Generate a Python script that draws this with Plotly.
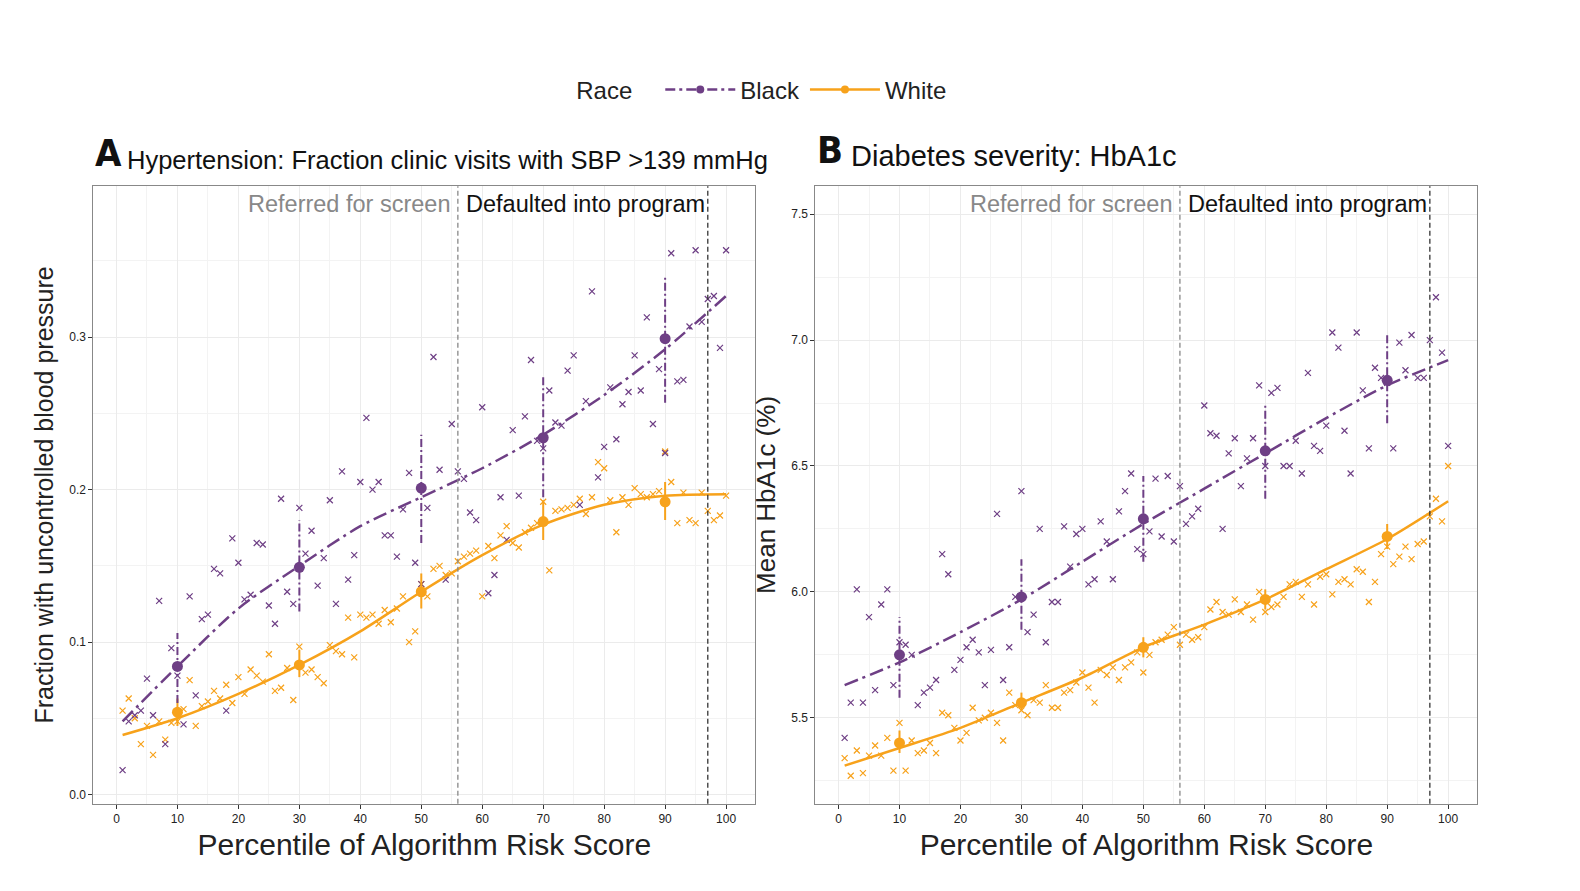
import plotly.graph_objects as go

pct = list(range(1, 101))
hyp_black = [0.016,0.048,0.052,0.055,0.076,0.052,0.127,0.033,0.096,0.078,0.046,0.130,0.065,0.115,0.118,0.148,0.145,0.055,0.168,0.152,
0.128,0.131,0.165,0.164,0.124,0.112,0.194,0.133,0.125,0.188,0.158,0.173,0.137,0.155,0.193,0.125,0.212,0.141,0.157,0.205,
0.247,0.200,0.205,0.170,0.170,0.156,0.187,0.211,0.152,0.138,0.188,0.287,0.213,0.141,0.243,0.212,0.207,0.185,0.180,0.254,
0.132,0.144,0.195,0.167,0.239,0.196,0.248,0.285,0.232,0.227,0.265,0.244,0.242,0.278,0.288,0.190,0.258,0.330,0.208,0.228,
0.267,0.233,0.256,0.264,0.288,0.265,0.313,0.243,0.279,0.224,0.355,0.271,0.272,0.307,0.357,0.310,0.325,0.327,0.293,0.357]
hyp_white = [0.055,0.063,0.050,0.033,0.045,0.026,0.048,0.036,0.047,0.048,0.056,0.075,0.045,0.058,0.061,0.068,0.063,0.072,0.060,0.077,
0.066,0.082,0.078,0.074,0.092,0.068,0.070,0.083,0.062,0.097,0.080,0.082,0.077,0.073,0.098,0.094,0.092,0.116,0.090,0.118,
0.116,0.118,0.112,0.121,0.113,0.122,0.130,0.100,0.107,0.138,0.130,0.148,0.150,0.144,0.145,0.153,0.156,0.158,0.160,0.130,
0.163,0.155,0.170,0.176,0.165,0.162,0.172,0.175,0.178,0.192,0.147,0.186,0.187,0.188,0.190,0.194,0.184,0.195,0.218,0.214,
0.193,0.172,0.195,0.190,0.201,0.197,0.195,0.197,0.199,0.225,0.205,0.178,0.198,0.180,0.178,0.198,0.186,0.180,0.183,0.196]
dia_black = [5.42,5.56,6.01,5.56,5.90,5.61,5.95,6.01,5.63,5.80,5.79,5.75,5.55,5.60,5.62,5.65,6.15,6.07,5.69,5.73,
5.78,5.81,5.76,5.63,5.77,6.31,5.65,5.78,5.98,6.40,5.84,5.91,6.25,5.80,5.96,5.96,6.26,6.10,6.23,6.25,
6.03,6.05,6.28,6.20,6.05,6.32,6.40,6.47,6.17,6.15,6.24,6.45,6.22,6.46,6.20,6.42,6.27,6.30,6.33,6.74,
6.63,6.62,6.25,6.55,6.61,6.42,6.53,6.61,6.82,6.50,6.79,6.81,6.50,6.50,6.60,6.47,6.87,6.58,6.56,6.66,
7.03,6.97,6.64,6.47,7.03,6.80,6.57,6.89,6.85,6.83,6.57,6.99,6.88,7.02,6.85,6.85,7.00,7.17,6.95,6.58]
dia_white = [5.34,5.27,5.37,5.28,5.35,5.39,5.35,5.42,5.29,5.48,5.29,5.41,5.36,5.37,5.40,5.36,5.52,5.51,5.46,5.41,
5.44,5.54,5.49,5.50,5.52,5.48,5.41,5.60,5.55,5.53,5.51,5.57,5.56,5.63,5.54,5.54,5.60,5.61,5.64,5.68,
5.62,5.56,5.69,5.67,5.70,5.65,5.70,5.72,5.76,5.68,5.75,5.80,5.81,5.83,5.86,5.79,5.83,5.81,5.82,5.86,
5.93,5.96,5.92,5.91,5.97,5.92,5.95,5.89,6.00,5.92,5.94,5.95,5.98,6.03,6.04,5.98,6.03,5.95,6.06,6.07,
5.99,6.04,6.05,6.03,6.09,6.08,5.96,6.04,6.15,6.18,6.11,6.14,6.18,6.13,6.19,6.20,6.30,6.37,6.28,6.50]

bins = [10, 30, 50, 70, 90]
hyp_black_mean = [0.084, 0.149, 0.201, 0.234, 0.299]
hyp_black_lo = [0.060, 0.120, 0.165, 0.195, 0.257]
hyp_black_hi = [0.106, 0.180, 0.236, 0.274, 0.340]
hyp_white_mean = [0.054, 0.085, 0.133, 0.179, 0.192]
hyp_white_lo = [0.045, 0.077, 0.122, 0.167, 0.180]
hyp_white_hi = [0.063, 0.095, 0.145, 0.193, 0.205]
dia_black_mean = [5.75, 5.98, 6.29, 6.56, 6.84]
dia_black_lo = [5.58, 5.85, 6.12, 6.37, 6.67]
dia_black_hi = [5.90, 6.13, 6.46, 6.75, 7.03]
dia_white_mean = [5.40, 5.56, 5.78, 5.97, 6.22]
dia_white_lo = [5.36, 5.53, 5.74, 5.93, 6.17]
dia_white_hi = [5.45, 5.60, 5.82, 6.01, 6.27]

fit_x = [1, 10, 20, 30, 40, 50, 60, 70, 80, 90, 100]
hyp_black_fit = [0.048,0.084,0.122,0.150,0.176,0.195,0.214,0.236,0.262,0.292,0.327]
hyp_white_fit = [0.039,0.050,0.066,0.085,0.107,0.133,0.157,0.177,0.190,0.196,0.197]
dia_black_fit = [5.63,5.72,5.84,5.97,6.12,6.27,6.41,6.55,6.69,6.82,6.92]
dia_white_fit = [5.31,5.38,5.46,5.56,5.66,5.78,5.87,5.97,6.09,6.21,6.36]

PURPLE = "#6e3f85"
ORANGE = "#f7a21b"
DASH = "14px,5px,3px,5px"

fig = go.Figure()

def panel(xa, ya, b, w, bm, blo, bhi, wm, wlo, whi, bf, wf):
    for vals, col in ((w, ORANGE), (b, PURPLE)):
        fig.add_trace(go.Scatter(x=pct, y=vals, mode="markers", xaxis=xa, yaxis=ya, showlegend=False,
                                 marker=dict(symbol="x-thin", size=6, line=dict(width=1.2, color=col), color=col)))
    for fx, col, dash in ((wf, ORANGE, "solid"), (bf, PURPLE, DASH)):
        fig.add_trace(go.Scatter(x=fit_x, y=fx, mode="lines", xaxis=xa, yaxis=ya, showlegend=False,
                                 line=dict(color=col, width=2.5, dash=dash, shape="spline", smoothing=0.8)))
    for m, lo, hi, col, dash in ((wm, wlo, whi, ORANGE, "solid"), (bm, blo, bhi, PURPLE, "8px,3px,2px,3px")):
        ex, ey = [], []
        for xx, l, h in zip(bins, lo, hi):
            ex += [xx, xx, None]; ey += [l, h, None]
        fig.add_trace(go.Scatter(x=ex, y=ey, mode="lines", xaxis=xa, yaxis=ya, showlegend=False,
                                 line=dict(color=col, width=2, dash=dash)))
        fig.add_trace(go.Scatter(x=bins, y=m, mode="markers", xaxis=xa, yaxis=ya, showlegend=False,
                                 marker=dict(size=11, color=col)))

panel("x", "y", hyp_black, hyp_white, hyp_black_mean, hyp_black_lo, hyp_black_hi,
      hyp_white_mean, hyp_white_lo, hyp_white_hi, hyp_black_fit, hyp_white_fit)
panel("x2", "y2", dia_black, dia_white, dia_black_mean, dia_black_lo, dia_black_hi,
      dia_white_mean, dia_white_lo, dia_white_hi, dia_black_fit, dia_white_fit)

fig.add_trace(go.Scatter(x=[None], y=[None], mode="lines+markers", name="Black",
                         line=dict(color=PURPLE, width=2.5, dash="10px,4px,3px,4px"), marker=dict(size=8, color=PURPLE)))
fig.add_trace(go.Scatter(x=[None], y=[None], mode="lines+markers", name="White",
                         line=dict(color=ORANGE, width=2.5), marker=dict(size=8, color=ORANGE)))

FONT = "Liberation Sans, Arial, sans-serif"
ax_common = dict(showgrid=True, gridcolor="#ebebeb", zeroline=False, showline=True, linecolor="#888", mirror=True,
                 ticks="outside", ticklen=4, tickcolor="#333", tickfont=dict(size=12, color="#222"), automargin=False)
xt = dict(text="Percentile of Algorithm Risk Score", font=dict(size=30, color="#222"), standoff=8)
fig.update_layout(
    width=1580, height=891, paper_bgcolor="white", plot_bgcolor="white",
    margin=dict(l=0, r=0, t=0, b=0), font=dict(family=FONT),
    xaxis=dict(domain=[0.054, 0.473], range=[-3.8, 104.8], tickvals=list(range(0, 101, 10)), title=xt,
               minor=dict(dtick=5, showgrid=True, gridcolor="#f3f3f3"), **ax_common),
    yaxis=dict(domain=[0.107, 0.800], range=[-0.006, 0.399], tickvals=[0, 0.1, 0.2, 0.3],
               ticktext=["0.0", "0.1", "0.2", "0.3"],
               title=dict(text="Fraction with uncontrolled blood pressure", font=dict(size=25, color="#222"), standoff=8),
               minor=dict(dtick=0.05, showgrid=True, gridcolor="#f3f3f3"), **ax_common),
    xaxis2=dict(domain=[0.511, 0.930], range=[-3.8, 104.8], tickvals=list(range(0, 101, 10)), title=xt,
                minor=dict(dtick=5, showgrid=True, gridcolor="#f3f3f3"), **ax_common, anchor="y2"),
    yaxis2=dict(domain=[0.107, 0.800], range=[5.159, 7.611], tickvals=[5.5, 6.0, 6.5, 7.0, 7.5],
                ticktext=["5.5", "6.0", "6.5", "7.0", "7.5"],
                title=dict(text="Mean HbA1c (%)", font=dict(size=26, color="#222"), standoff=8),
                minor=dict(dtick=0.25, showgrid=True, gridcolor="#f3f3f3"), **ax_common, anchor="x2"),
    legend=dict(orientation="h", x=0.478, y=0.908, xanchor="center", yanchor="middle",
                title=dict(text="Race   ", font=dict(size=24, color="#222")), font=dict(size=24, color="#222"),
                itemwidth=70, bgcolor="rgba(0,0,0,0)"),
)

for xa, ya in (("x", "y"), ("x2", "y2")):
    fig.add_shape(type="line", x0=56, x1=56, y0=0, y1=1, xref=xa, yref=ya + " domain",
                  line=dict(color="#888", width=1.3, dash="5px,3px"))
    fig.add_shape(type="line", x0=97, x1=97, y0=0, y1=1, xref=xa, yref=ya + " domain",
                  line=dict(color="#333", width=1.3, dash="5px,3px"))
    fig.add_annotation(x=55, y=0.995, xref=xa, yref=ya + " domain", text="Referred for screen", showarrow=False,
                       xanchor="right", yanchor="top", font=dict(size=23.5, color="#888"))
    fig.add_annotation(x=57, y=0.995, xref=xa, yref=ya + " domain", text="Defaulted into program", showarrow=False,
                       xanchor="left", yanchor="top", font=dict(size=23.5, color="#111"))

fig.add_annotation(x=0.054, y=0.837, xref="paper", yref="paper", xanchor="left", yanchor="middle", showarrow=False,
                   text="<b>A</b>", font=dict(size=38, color="#111", family="DejaVu Sans Condensed, Liberation Sans Narrow, sans-serif"))
fig.add_annotation(x=0.074, y=0.829, xref="paper", yref="paper", xanchor="left", yanchor="middle", showarrow=False,
                   text="Hypertension: Fraction clinic visits with SBP >139 mmHg", font=dict(size=25.5, color="#111"))
fig.add_annotation(x=0.511, y=0.841, xref="paper", yref="paper", xanchor="left", yanchor="middle", showarrow=False,
                   text="<b>B</b>", font=dict(size=38, color="#111", family="DejaVu Sans Condensed, Liberation Sans Narrow, sans-serif"))
fig.add_annotation(x=0.532, y=0.834, xref="paper", yref="paper", xanchor="left", yanchor="middle", showarrow=False,
                   text="Diabetes severity: HbA1c", font=dict(size=29, color="#111"))

fig.write_html("out.html")
